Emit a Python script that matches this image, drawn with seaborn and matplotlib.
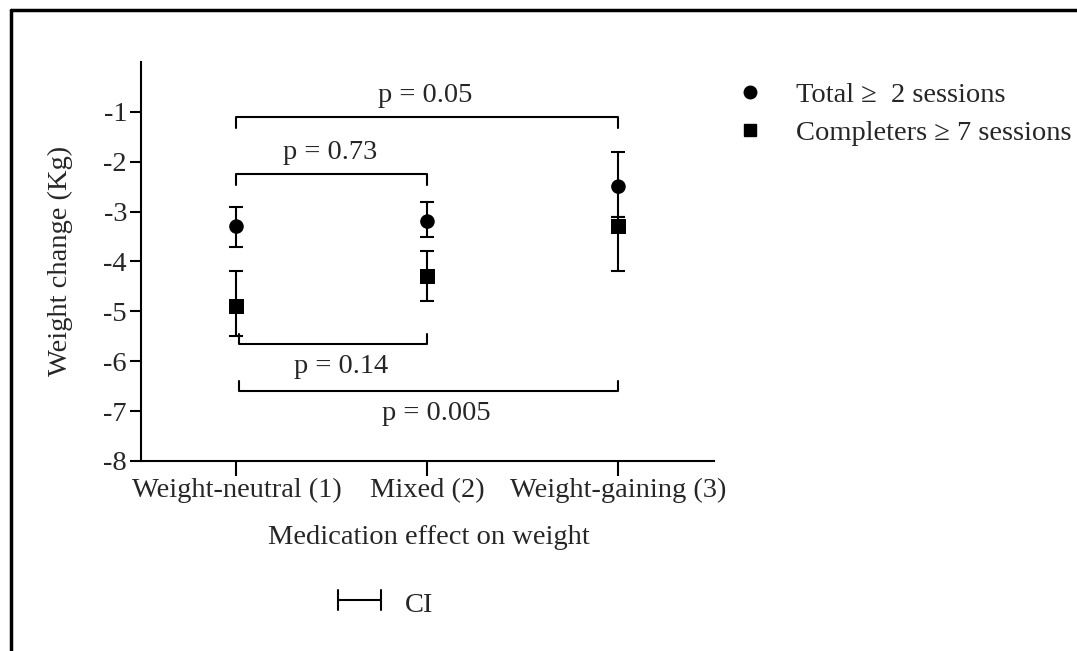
import numpy as np
import pandas as pd
import matplotlib
matplotlib.use("Agg")
import matplotlib.pyplot as plt
import seaborn as sns
from matplotlib.lines import Line2D

# Data
groups = ["Weight-neutral (1)", "Mixed (2)", "Weight-gaining (3)"]
xpos = [1, 2, 3]

total_mean = [-3.3, -3.2, -2.5]
total_lo = [-3.7, -3.5, -3.1]
total_hi = [-2.9, -2.8, -1.8]

comp_mean = [-4.9, -4.3, -3.3]
comp_lo = [-5.5, -4.8, -4.2]
comp_hi = [-4.2, -3.8, -3.1]

series_names = ["Total \u2265  2 sessions", "Completers \u2265 7 sessions"]

# p-value brackets: (x start, x end, bar level, label)
bracket_from = [1, 1, 1.015, 1.015]
bracket_to = [3, 2, 2, 3]
bracket_y = [-1.1, -2.25, -5.65, -6.6]
bracket_label = ["p = 0.05", "p = 0.73", "p = 0.14", "p = 0.005"]

sns.set_style("ticks")
plt.rcParams['font.family'] = ['Liberation Serif', 'DejaVu Serif']
FS = 20.5

df = pd.DataFrame({
    "x": xpos * 2,
    "y": total_mean + comp_mean,
    "lo": total_lo + comp_lo,
    "hi": total_hi + comp_hi,
    "series": [series_names[0]] * 3 + [series_names[1]] * 3,
})

fig = plt.figure(figsize=(10.77, 6.51), dpi=100)
ax = fig.add_axes([0.1309, 0.2919, 0.532, 0.6129])

# confidence intervals
for name, d in df.groupby("series", sort=False):
    ax.errorbar(d["x"], d["y"], yerr=[d["y"] - d["lo"], d["hi"] - d["y"]],
                fmt="none", ecolor="black", elinewidth=1.5, capsize=5,
                capthick=1.5, zorder=2)

sns.scatterplot(data=df, x="x", y="y", style="series",
                markers={series_names[0]: "o", series_names[1]: "s"},
                color="black", s=110, edgecolor="black", linewidth=0,
                legend=False, ax=ax, zorder=3)

# brackets
for x0, x1, yb, lab in zip(bracket_from, bracket_to, bracket_y, bracket_label):
    up = yb > -4
    tick = -0.22 if up else 0.2
    ax.plot([x0, x0, x1, x1], [yb + tick, yb, yb, yb + tick],
            color="black", lw=1.5, zorder=1)
    if up:
        ax.text((x0 + x1) / 2 - 0.01, yb + 0.18, lab, ha="center", va="bottom",
                fontsize=FS)
    else:
        ax.text((x0 + x1) / 2 + 0.04, yb - 0.2, lab, ha="center", va="top",
                fontsize=FS)

ax.set_xlim(0.5, 3.5)
ax.set_ylim(-8, 0)
ax.set_yticks(np.arange(-8, 0))
ax.set_yticklabels([str(v) for v in range(-8, 0)])
ax.set_xticks(xpos)
ax.set_xticklabels(groups)
ax.tick_params(axis="y", length=8, width=1.5, labelsize=FS, pad=2, color="black")
ax.tick_params(axis="x", length=11, width=1.5, labelsize=FS, pad=1, color="black")
for s in ["left", "bottom"]:
    ax.spines[s].set_linewidth(1.5)
    ax.spines[s].set_color("black")
sns.despine(ax=ax)
ax.set_xlabel("")
ax.set_ylabel("")

fig.text(0.0557, 0.599, "Weight change (Kg)", rotation=90, ha="center",
         va="center", fontsize=FS)
fig.text(0.3985, 0.1644, "Medication effect on weight", ha="center",
         va="baseline", fontsize=FS)

# legend on the right
leg_items = [Line2D([], [], marker="o", color="black", ls="none", markersize=9),
             Line2D([], [], marker="s", color="black", ls="none", markersize=8.5)]
fig.legend(leg_items, series_names, loc="upper left",
           bbox_to_anchor=(0.653, 0.914), frameon=False, fontsize=FS,
           handletextpad=0.85, labelspacing=0.45, handlelength=1.5)

# CI key
fig.add_artist(Line2D([0.314, 0.354], [0.0783, 0.0783], color="black", lw=1.5))
fig.add_artist(Line2D([0.314, 0.314], [0.063, 0.094], color="black", lw=1.5))
fig.add_artist(Line2D([0.354, 0.354], [0.063, 0.094], color="black", lw=1.5))
fig.text(0.376, 0.0599, "CI", ha="left", va="baseline", fontsize=FS)

# outer frame (left and top edges)
fig.add_artist(Line2D([0.0102, 0.0102], [0.0, 0.984], color="black", lw=2.5))
fig.add_artist(Line2D([0.0102, 1.0], [0.984, 0.984], color="black", lw=2.5))

fig.savefig("out.png", dpi=100, facecolor="white")
